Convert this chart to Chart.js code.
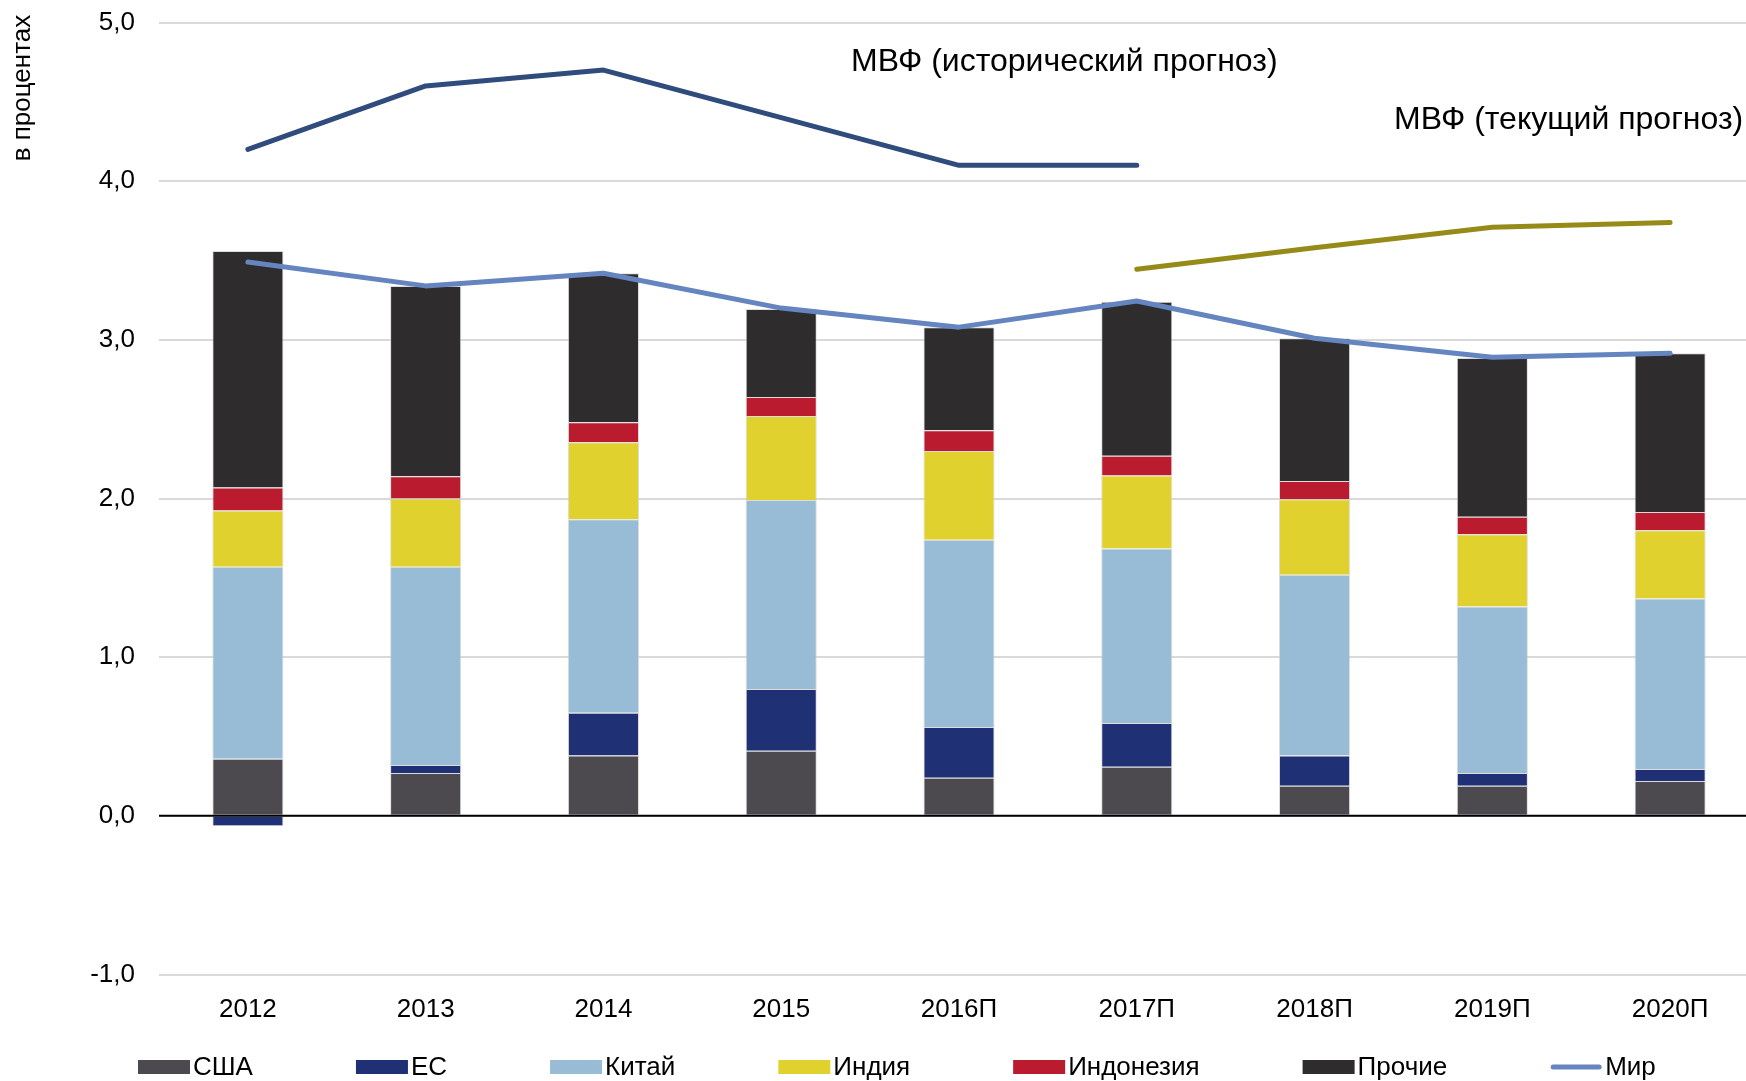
<!DOCTYPE html>
<html lang="ru">
<head>
<meta charset="utf-8">
<title>Вклад в рост мировой экономики</title>
<script src="https://cdn.jsdelivr.net/npm/chart.js@4.4.1/dist/chart.umd.min.js"></script>
<style>
    html, body { margin: 0; padding: 0; background: #fff; overflow: hidden; }
    #wrap { position: relative; width: 1760px; height: 1081px; }
</style>
</head>
<body>
<div id="wrap"><canvas id="growthChart" width="1760" height="1081"></canvas></div>
<script>
const years = ['2012', '2013', '2014', '2015', '2016П', '2017П', '2018П', '2019П', '2020П'];

// вклад в рост, п.п.
const usa = [0.36, 0.27, 0.38, 0.41, 0.24, 0.31, 0.19, 0.19, 0.22];
const eu = [-0.065, 0.05, 0.27, 0.39, 0.32, 0.275, 0.19, 0.08, 0.075];
const china = [1.21, 1.25, 1.22, 1.19, 1.18, 1.10, 1.14, 1.05, 1.075];
const india = [0.355, 0.43, 0.485, 0.53, 0.56, 0.46, 0.475, 0.455, 0.43];
const indonesia = [0.145, 0.14, 0.125, 0.12, 0.13, 0.125, 0.115, 0.11, 0.115];
const others = [1.49, 1.20, 0.94, 0.555, 0.65, 0.97, 0.90, 1.00, 1.00];

const world = [3.49, 3.34, 3.42, 3.20, 3.08, 3.245, 3.01, 2.89, 2.915];
const imfHistoric = [4.2, 4.6, 4.7, 4.4, 4.1, 4.1, null, null, null];
const imfCurrent = [null, null, null, null, null, 3.445, 3.58, 3.71, 3.74];

const yTicks = [-1, 0, 1, 2, 3, 4, 5];

const FONT = '"Liberation Sans", Arial, sans-serif';
Chart.defaults.font.family = FONT;
Chart.defaults.font.size = 26;
Chart.defaults.color = '#000';

function bar(label, data, color) {
    return {
        type: 'bar', label: label, data: data, order: 1,
        backgroundColor: color,
        borderColor: 'rgba(205,205,205,0.7)', borderWidth: 1,
        barPercentage: 0.8, categoryPercentage: 0.5
    };
}

function line(label, data, color, stack) {
    return {
        type: 'line', label: label, data: data, order: 0, stack: stack,
        borderColor: color, backgroundColor: color, borderWidth: 5,
        borderCapStyle: 'round', borderJoinStyle: 'round',
        pointRadius: 0, tension: 0, spanGaps: false
    };
}

const datasets = [
    line('Мир', world, '#6485bf', 'w'),
    line('МВФ (исторический прогноз)', imfHistoric, '#2f4c7c', 'h'),
    line('МВФ (текущий прогноз)', imfCurrent, '#968b19', 'c'),
    bar('США', usa, '#4d4a4f'),
    bar('ЕС', eu, '#1f3174'),
    bar('Китай', china, '#98bbd6'),
    bar('Индия', india, '#e0d12f'),
    bar('Индонезия', indonesia, '#ba1b2e'),
    bar('Прочие', others, '#2e2c2d')
];

const legendOrder = ['США', 'ЕС', 'Китай', 'Индия', 'Индонезия', 'Прочие', 'Мир'];

const zeroLine = {
    id: 'zeroLine',
    afterDatasetsDraw(chart) {
        const c = chart.ctx, a = chart.chartArea;
        const y = chart.scales.y.getPixelForValue(0);
        c.save();
        c.strokeStyle = '#000';
        c.lineWidth = 2;
        c.beginPath();
        c.moveTo(a.left, y);
        c.lineTo(a.right, y);
        c.stroke();
        c.restore();
    }
};

const extras = {
    id: 'extras',
    afterDraw(chart) {
        const c = chart.ctx;
        c.save();
        c.fillStyle = '#000';
        c.textBaseline = 'middle';

        // подпись оси
        c.font = '26px ' + FONT;
        c.save();
        c.translate(23, 88);
        c.rotate(-Math.PI / 2);
        c.textAlign = 'center';
        c.fillText('в процентах', 0, 0);
        c.restore();

        // подписи линий МВФ
        c.font = '32px ' + FONT;
        c.textAlign = 'left';
        c.fillText('МВФ (исторический прогноз)', 851, 62);
        c.fillText('МВФ (текущий прогноз)', 1394, 120);

        // легенда
        c.font = '26px ' + FONT;
        let x = 138;
        const y = 1067;
        legendOrder.forEach(name => {
            const ds = chart.data.datasets.find(d => d.label === name);
            if (ds.type === 'line') {
                c.strokeStyle = ds.borderColor;
                c.lineWidth = 5;
                c.lineCap = 'round';
                c.beginPath();
                c.moveTo(x + 3, y);
                c.lineTo(x + 49, y);
                c.stroke();
            } else {
                c.fillStyle = ds.backgroundColor;
                c.fillRect(x, y - 7, 52, 14);
            }
            c.fillStyle = '#000';
            c.fillText(name, x + 55, y + 1);
            x += 55 + c.measureText(name).width + 103;
        });
        c.restore();
    }
};

new Chart(document.getElementById('growthChart'), {
    data: { labels: years, datasets: datasets },
    options: {
        responsive: false,
        animation: false,
        events: [],
        layout: { padding: { top: 22.5, right: 1, left: 0, bottom: 0 } },
        plugins: { legend: { display: false }, tooltip: { enabled: false } },
        scales: {
            x: {
                stacked: true,
                grid: { display: false },
                border: { display: false },
                ticks: { padding: 12, font: { size: 26 }, maxRotation: 0 },
                afterFit(scale) { scale.height = 106.5; }
            },
            y: {
                stacked: true,
                min: -1,
                max: 5,
                afterBuildTicks(scale) { scale.ticks = yTicks.map(v => ({ value: v })); },
                grid: { color: '#d9d9d9', lineWidth: 2, drawTicks: false },
                border: { display: false },
                ticks: {
                    padding: 24,
                    font: { size: 26 },
                    callback: v => v.toFixed(1).replace('.', ',')
                },
                afterFit(scale) {
                    scale.width = 159;
                    scale.paddingTop = 0;
                    scale.paddingBottom = 0;
                }
            }
        }
    },
    plugins: [zeroLine, extras]
});
</script>
</body>
</html>
